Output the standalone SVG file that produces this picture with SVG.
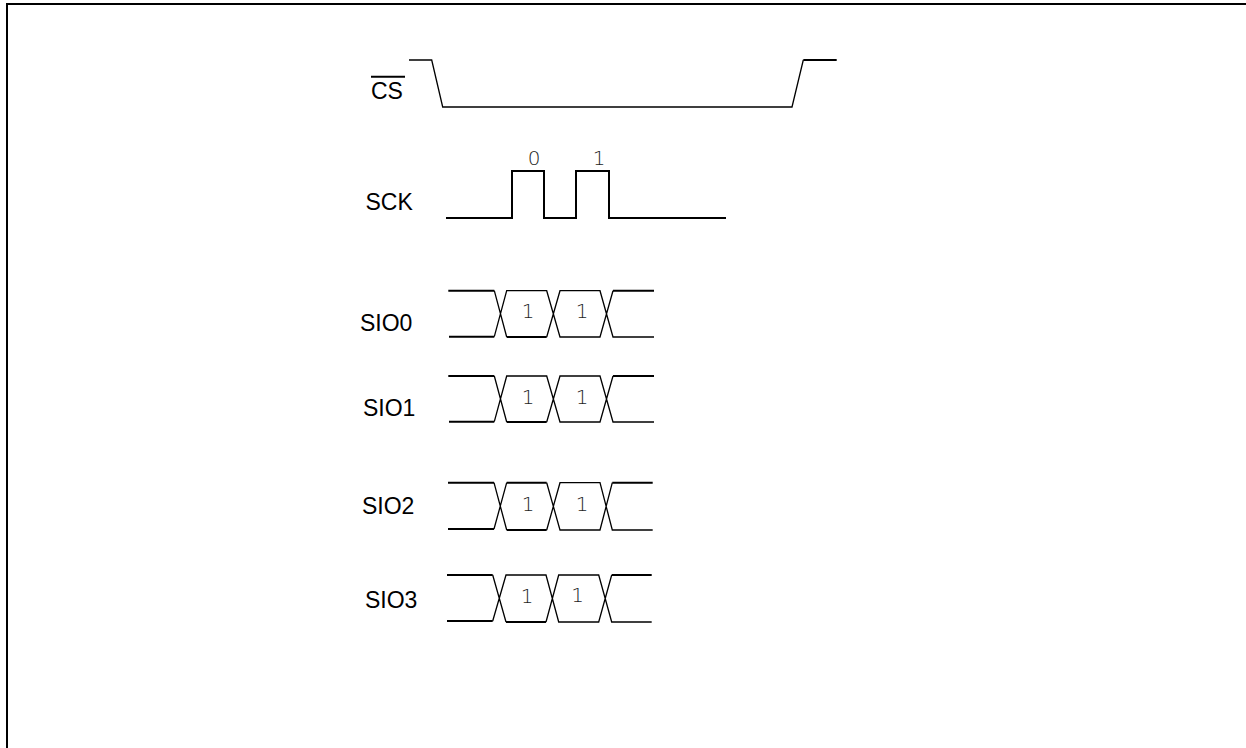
<svg xmlns="http://www.w3.org/2000/svg" width="1246" height="748" viewBox="0 0 1246 748">
<style>
.t{fill:none;stroke:#000;stroke-width:1.3}
.k{fill:none;stroke:#000;stroke-width:2}
.l{font-family:"Liberation Sans",Arial,sans-serif;font-size:23px;fill:#000}
.d{font-family:"DejaVu Sans",sans-serif;font-weight:200;font-size:20px;fill:#222;text-anchor:middle;opacity:.99}
</style>
<rect width="1246" height="748" fill="#fff"/>
<path class="k" d="M7 748V4H1246"/>
<g id="cs">
<text class="l" x="371" y="99">CS</text>
<path class="k" d="M371 76.700H405"/>
<path class="t" d="M409 60H431.700L442.700 107H792L803.300 60"/>
<path class="k" d="M803.300 60H836.700"/>
</g>
<g id="sck">
<text class="l" x="365.500" y="210">SCK</text>
<text class="d" x="534" y="165">0</text>
<text class="d" x="599" y="165">1</text>
<path class="k" d="M446 218H512V171H544V218H576V171H609V218H726"/>
</g>
<g id="sio0">
<text class="l" x="360" y="331">SIO0</text>
<text class="d" x="528" y="318">1</text>
<text class="d" x="582" y="318">1</text>
<path class="k" d="M448.300 290.700H494.300M449 336.700H494.300M506.700 337H546.700M613 290.700H654"/>
<path class="t" d="M494.300 290.700L506.700 337M494.300 336.700L506.700 290.700H546.700L560 337H600L613 290.700M546.700 337L560 290.700H600L613 337H654"/>
</g>
<g id="sio1">
<text class="l" x="363" y="416">SIO1</text>
<text class="d" x="528" y="404">1</text>
<text class="d" x="582" y="404">1</text>
<path class="k" d="M448.300 376H494.300M449 421.700H494.300M506.700 422H546.700M613 376H654"/>
<path class="t" d="M494.300 376L506.700 422M494.300 421.700L506.700 376H546.700L560 422H600L613 376M546.700 422L560 376H600L613 422H654"/>
</g>
<g id="sio2">
<text class="l" x="362" y="514">SIO2</text>
<text class="d" x="528" y="511">1</text>
<text class="d" x="582" y="511">1</text>
<path class="k" d="M448 482.700H494M448 529H494M506.700 530H546.700M612.300 482.700H652.700M506.700 482.700H546.700"/>
<path class="t" d="M494 482.700L506.700 530M494 529L506.700 482.700M546.700 482.700L560 530H600L612.300 482.700M546.700 530L560 482.700H600L612.300 530H652.700"/>
</g>
<g id="sio3">
<text class="l" x="365" y="608">SIO3</text>
<text class="d" x="527" y="603">1</text>
<text class="d" x="577.500" y="602">1</text>
<path class="k" d="M447 575H492.700M447 621H492.700M506 622H546M611.700 575H651.700"/>
<path class="t" d="M492.700 575L506 622M492.700 621L506 575H546L558.700 622H598.700L611.700 575M546 622L558.700 575H598.700L611.700 622H651.700"/>
</g>
</svg>
